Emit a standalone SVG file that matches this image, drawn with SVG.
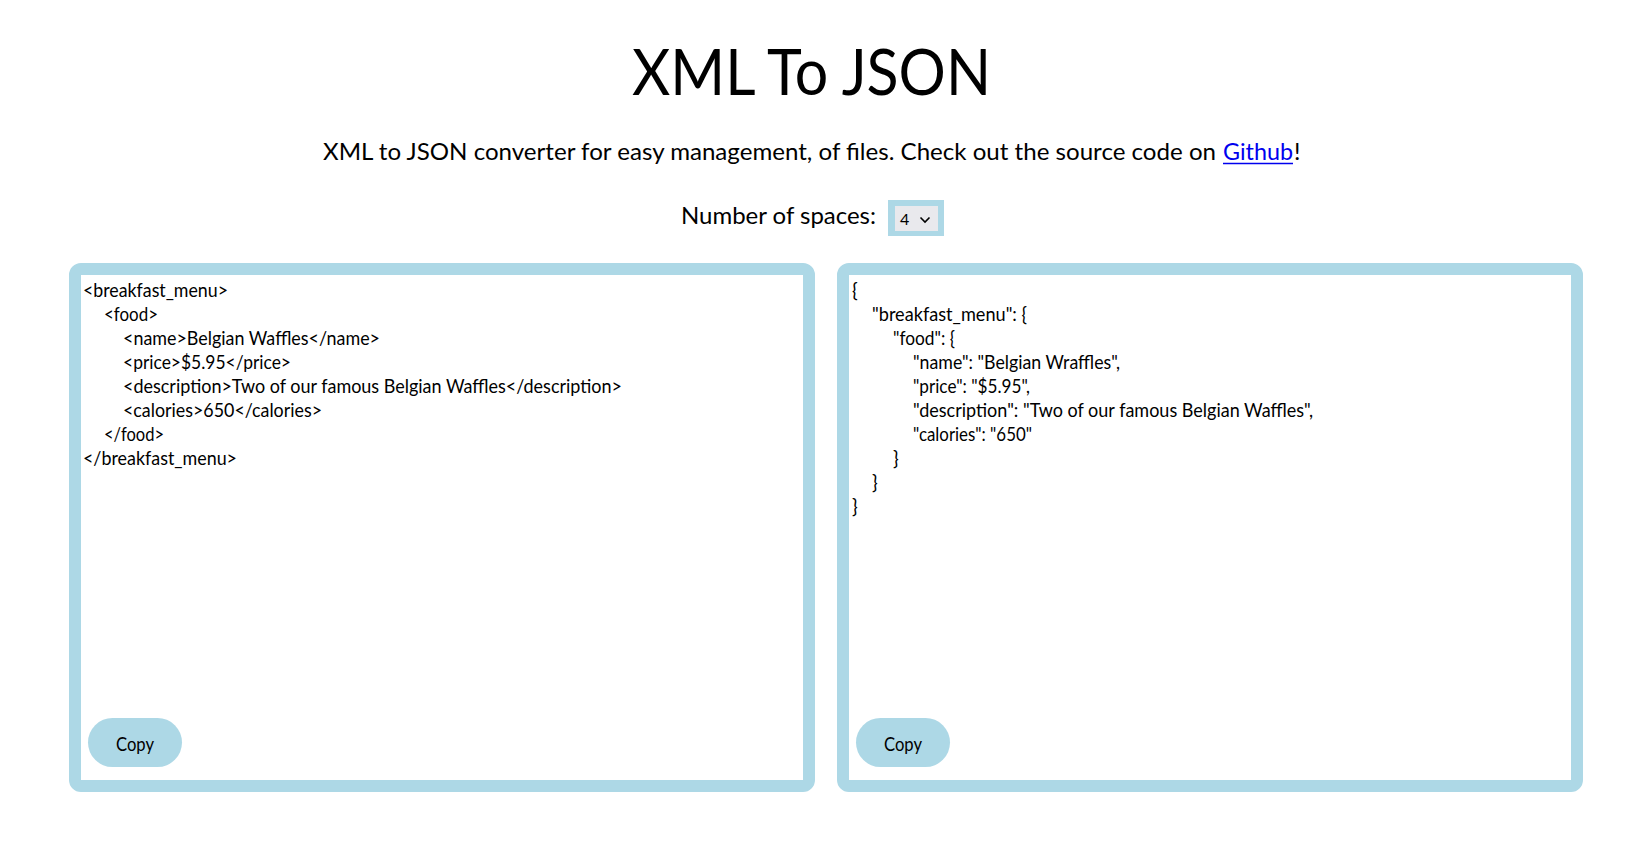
<svg xmlns="http://www.w3.org/2000/svg" width="1652" height="857" viewBox="0 0 1652 857">
<style>
text{font-family:Lato,"Open Sans","Liberation Sans",sans-serif;fill:#000}
.code{font-size:19px}
.panel{fill:#fff;stroke:#add8e6;stroke-width:12}
.btn{fill:#add8e6}
.btxt{font-size:19px;text-anchor:middle}
</style>
<rect width="1652" height="857" fill="#fff"/>
<g id="header">
<text x="632" y="95" font-size="64" textLength="359" lengthAdjust="spacingAndGlyphs">XML To JSON</text>
<text x="323" y="160" font-size="24" textLength="893" lengthAdjust="spacingAndGlyphs">XML to JSON converter for easy management, of files. Check out the source code on</text>
<text x="1223" y="160" font-size="24" textLength="70" lengthAdjust="spacingAndGlyphs" style="fill:#0000ee">Github</text>
<line x1="1223" y1="163.5" x2="1293" y2="163.5" stroke="#0000ee" stroke-width="1.5"/>
<text x="1294" y="160" font-size="24">!</text>
</g>
<g id="spaces-select">
<text x="681" y="224" font-size="24" textLength="195" lengthAdjust="spacingAndGlyphs">Number of spaces:</text>
<rect x="888" y="200" width="56" height="36" fill="#add8e6"/>
<rect x="895" y="206" width="43" height="25" fill="#e9e9ed"/>
<text x="900" y="225" font-size="16">4</text>
<path d="M920.5 217.5 L925 222 L929.5 217.5" fill="none" stroke="#000" stroke-width="1.6"/>
</g>
<g id="xml-panel">
<rect class="panel" x="75" y="269" width="734" height="517" rx="6"/>
<text class="code" x="83" y="297" textLength="145" lengthAdjust="spacingAndGlyphs">&lt;breakfast_menu&gt;</text>
<text class="code" x="104" y="321" textLength="54" lengthAdjust="spacingAndGlyphs">&lt;food&gt;</text>
<text class="code" x="123" y="345" textLength="257" lengthAdjust="spacingAndGlyphs">&lt;name&gt;Belgian Waffles&lt;/name&gt;</text>
<text class="code" x="123" y="369" textLength="168" lengthAdjust="spacingAndGlyphs">&lt;price&gt;$5.95&lt;/price&gt;</text>
<text class="code" x="123" y="393" textLength="499" lengthAdjust="spacingAndGlyphs">&lt;description&gt;Two of our famous Belgian Waffles&lt;/description&gt;</text>
<text class="code" x="123" y="417" textLength="199" lengthAdjust="spacingAndGlyphs">&lt;calories&gt;650&lt;/calories&gt;</text>
<text class="code" x="104" y="441" textLength="60" lengthAdjust="spacingAndGlyphs">&lt;/food&gt;</text>
<text class="code" x="83" y="465" textLength="154" lengthAdjust="spacingAndGlyphs">&lt;/breakfast_menu&gt;</text>
</g>
<g id="xml-copy">
<rect class="btn" x="88" y="718" width="94" height="49" rx="24.5"/>
<text class="btxt" x="135" y="751" textLength="38" lengthAdjust="spacingAndGlyphs">Copy</text>
</g>
<g id="json-panel">
<rect class="panel" x="843" y="269" width="734" height="517" rx="6"/>
<text class="code" x="852" y="297">{</text>
<text class="code" x="872" y="321" textLength="155" lengthAdjust="spacingAndGlyphs">"breakfast_menu": {</text>
<text class="code" x="893" y="345" textLength="62" lengthAdjust="spacingAndGlyphs">"food": {</text>
<text class="code" x="913" y="369" textLength="207" lengthAdjust="spacingAndGlyphs">"name": "Belgian Wraffles",</text>
<text class="code" x="913" y="393" textLength="117" lengthAdjust="spacingAndGlyphs">"price": "$5.95",</text>
<text class="code" x="913" y="417" textLength="400" lengthAdjust="spacingAndGlyphs">"description": "Two of our famous Belgian Waffles",</text>
<text class="code" x="913" y="441" textLength="119" lengthAdjust="spacingAndGlyphs">"calories": "650"</text>
<text class="code" x="893" y="465">}</text>
<text class="code" x="872" y="489">}</text>
<text class="code" x="852" y="513">}</text>
</g>
<g id="json-copy">
<rect class="btn" x="856" y="718" width="94" height="49" rx="24.5"/>
<text class="btxt" x="903" y="751" textLength="38" lengthAdjust="spacingAndGlyphs">Copy</text>
</g>
<g id="connectors"></g>
</svg>
